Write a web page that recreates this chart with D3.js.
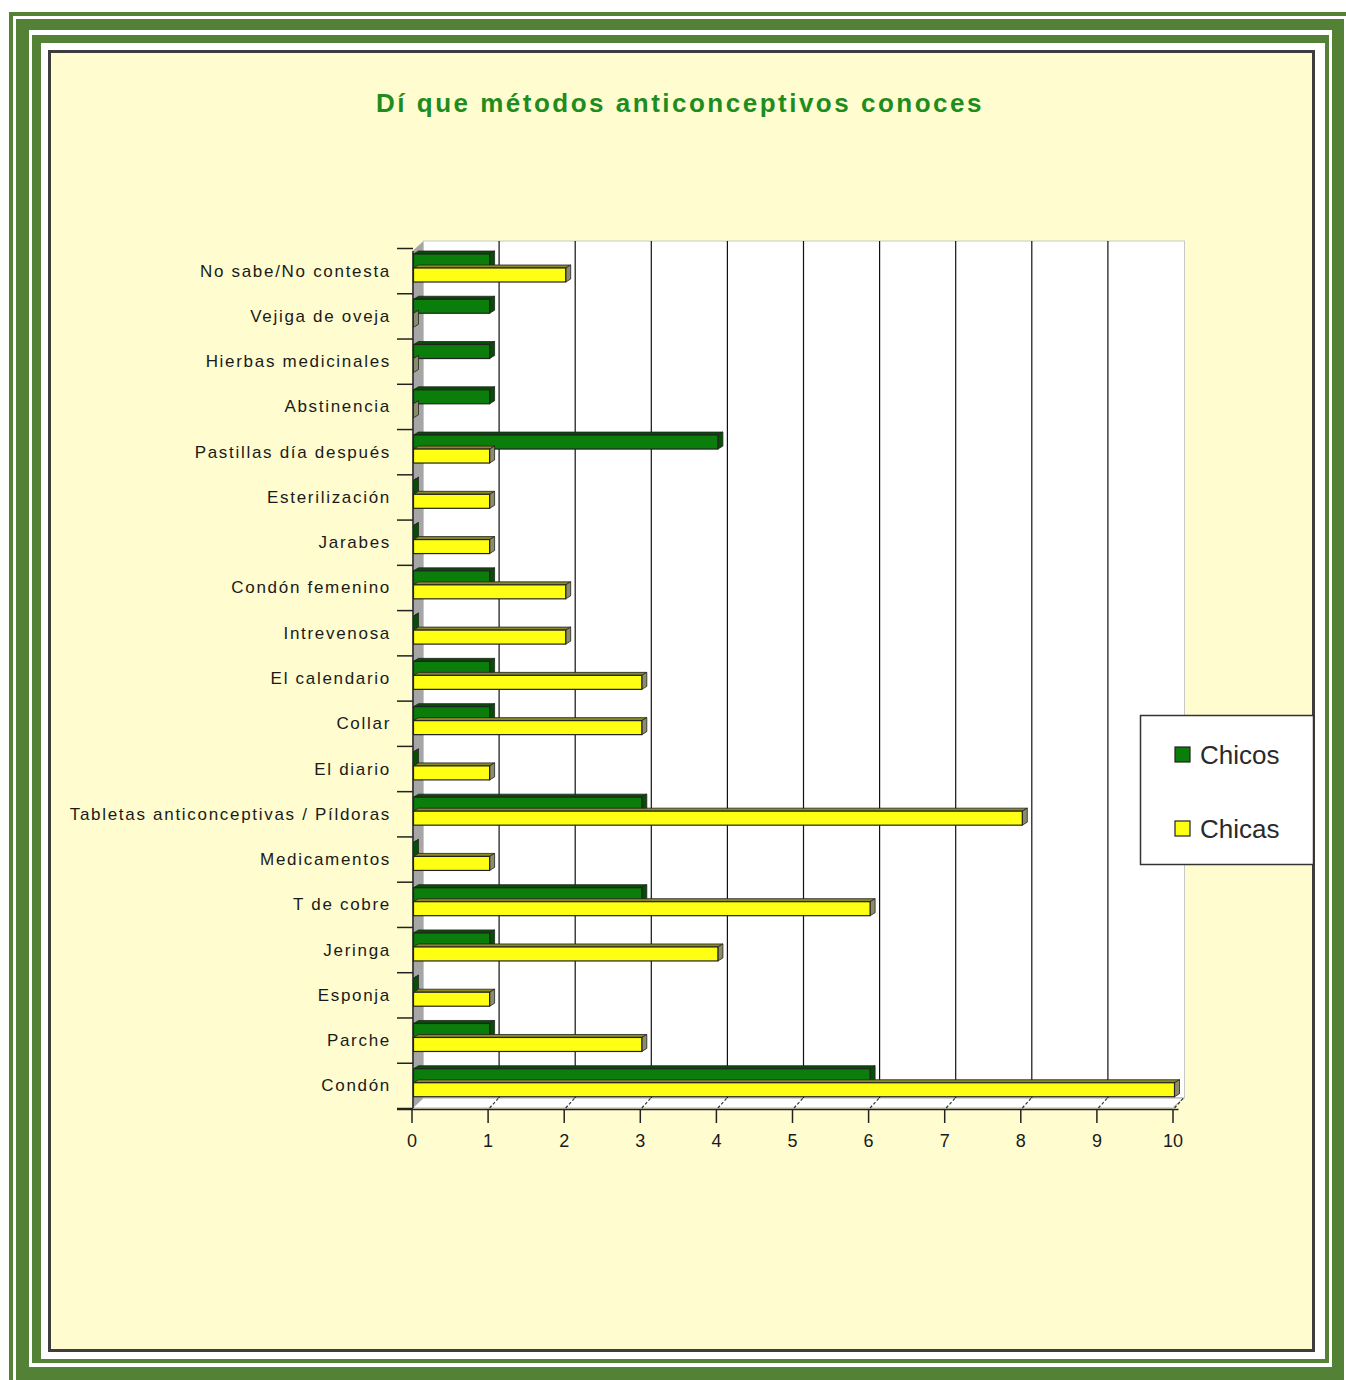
<!DOCTYPE html>
<html>
<head>
<meta charset="utf-8">
<script src="https://cdn.jsdelivr.net/npm/d3@7"></script>
<style>
  body { margin: 0; background: #fff; }
  svg { display: block; }
</style>
</head>
<body>
<div id="chart"></div>
<script>
// categorías de arriba a abajo
const categories = [
  "No sabe/No contesta", "Vejiga de oveja", "Hierbas medicinales", "Abstinencia",
  "Pastillas día después", "Esterilización", "Jarabes", "Condón femenino",
  "Intrevenosa", "El calendario", "Collar", "El diario",
  "Tabletas anticonceptivas / Píldoras", "Medicamentos", "T de cobre",
  "Jeringa", "Esponja", "Parche", "Condón"
];
const chicos = [1, 1, 1, 1, 4, 0, 0, 1, 0, 1, 1, 0, 3, 0, 3, 1, 0, 1, 6];
const chicas = [2, 0, 0, 0, 1, 1, 1, 2, 2, 3, 3, 1, 8, 1, 6, 4, 1, 3, 10];
const xTicks = [0, 1, 2, 3, 4, 5, 6, 7, 8, 9, 10];
const seriesNames = ["Chicos", "Chicas"];

const W = 1346, H = 1380;
const frameGreen = "#538135";
const svg = d3.select("#chart").append("svg").attr("width", W).attr("height", H);

// marco verde (varios bordes)
svg.append("rect").attr("width", W).attr("height", H).attr("fill", "#fff");
function band(o, i) {
  return `M${o[0]},${o[1]}H${o[2]}V${o[3]}H${o[0]}Z M${i[0]},${i[1]}H${i[2]}V${i[3]}H${i[0]}Z`;
}
svg.append("path").attr("fill-rule", "evenodd").attr("fill", frameGreen)
  .attr("d", band([9, 12, 1360, 1395], [13, 16, 1356, 1391]));
svg.append("path").attr("fill-rule", "evenodd").attr("fill", frameGreen)
  .attr("d", band([16, 19, 1344, 1380], [29, 30, 1332, 1367]));
svg.append("path").attr("fill-rule", "evenodd").attr("fill", frameGreen)
  .attr("d", band([32, 35, 1329, 1363], [41, 43, 1325, 1359]));

// panel
svg.append("rect").attr("x", 49.5).attr("y", 51.5).attr("width", 1264).attr("height", 1299)
  .attr("fill", "#fffdcf").attr("stroke", "#3d3d3d").attr("stroke-width", 3);

// título
svg.append("text")
  .attr("x", 680).attr("y", 112)
  .attr("text-anchor", "middle")
  .style("font-family", "Liberation Sans, Arial, sans-serif")
  .style("font-size", "26px").style("font-weight", "bold")
  .style("letter-spacing", "2.5px")
  .attr("fill", "#1e8c1e")
  .text("Dí que métodos anticonceptivos conoces");

// escalas
const x = d3.scaleLinear().domain([0, 10]).range([411.5, 1172.5]);
const y = d3.scaleBand().domain(categories).range([248, 1108]);
const depthX = 11, depthY = 10;
const wallTop = 241, floorY = 1108;

// pared izquierda gris
svg.append("path")
  .attr("d", `M${x(0) + 1},${wallTop + depthY}L${x(0) + 1 + depthX},${wallTop}V${floorY - depthY}L${x(0) + 1},${floorY}Z`)
  .attr("fill", "#a6a6a6");

// pared del fondo
svg.append("rect")
  .attr("x", x(0) + depthX + 1).attr("y", wallTop)
  .attr("width", x(10) - x(0)).attr("height", floorY - depthY - wallTop)
  .attr("fill", "#fff").attr("stroke", "#c8c8c8").attr("stroke-width", 1);

// suelo
svg.append("path")
  .attr("d", `M${x(0) + 1},${floorY}L${x(0) + 1 + depthX},${floorY - depthY}H${x(10) + depthX}L${x(10)},${floorY}Z`)
  .attr("fill", "#fff").attr("stroke", "#b0b0b0").attr("stroke-width", 1);

// líneas de cuadrícula
svg.append("g").selectAll("line").data(xTicks.slice(1, 10)).join("line")
  .attr("x1", d => x(d) + depthX + 0.5).attr("x2", d => x(d) + depthX + 0.5)
  .attr("y1", wallTop).attr("y2", floorY - depthY)
  .attr("stroke", "#111").attr("stroke-width", 1.2);
svg.append("g").selectAll("line").data(xTicks.slice(1)).join("line")
  .attr("x1", d => x(d) + 2).attr("x2", d => x(d) + depthX)
  .attr("y1", floorY).attr("y2", floorY - depthY)
  .attr("stroke", "#333").attr("stroke-width", 1.2).attr("stroke-dasharray", "3,2");

// barras 3D
const bx = 2, dX = 5, dY = 3, barH = 14;
const seriesStyle = [
  { vals: chicos, front: "#0b7d0b", top: "#064d06", side: "#055005", off: 6 },
  { vals: chicas, front: "#ffff14", top: "#8a8a20", side: "#8c8c6a", off: 20 }
];
const barsG = svg.append("g");
seriesStyle.forEach(s => {
  const g = barsG.append("g");
  categories.forEach((c, i) => {
    const v = s.vals[i];
    const x0 = x(0) + bx, x1 = x(v) + bx;
    const y0 = y(c) + s.off, y1 = y0 + barH;
    // cara superior
    g.append("path")
      .attr("d", `M${x0},${y0}L${x0 + dX},${y0 - dY}H${x1 + dX}L${x1},${y0}Z`)
      .attr("fill", s.top).attr("stroke", "#222").attr("stroke-width", 0.8);
    // cara lateral
    g.append("path")
      .attr("d", `M${x1},${y0}L${x1 + dX},${y0 - dY}V${y1 - dY}L${x1},${y1}Z`)
      .attr("fill", s.side).attr("stroke", "#222").attr("stroke-width", 0.8);
    // cara frontal
    if (v > 0) {
      g.append("rect")
        .attr("x", x0).attr("y", y0).attr("width", x1 - x0).attr("height", barH)
        .attr("fill", s.front).attr("stroke", "#222").attr("stroke-width", 1.2);
    }
  });
});

// eje Y
svg.append("line").attr("x1", x(0) + 1.5).attr("x2", x(0) + 1.5)
  .attr("y1", wallTop + depthY).attr("y2", floorY)
  .attr("stroke", "#222").attr("stroke-width", 1.5);
const yBounds = categories.map(c => y(c)).concat([y.range()[1]]);
svg.append("g").selectAll("line").data(yBounds).join("line")
  .attr("x1", 397).attr("x2", x(0) + 1.5)
  .attr("y1", d => d + 0.5).attr("y2", d => d + 0.5)
  .attr("stroke", "#222").attr("stroke-width", 1.5);
svg.append("g").selectAll("text").data(categories).join("text")
  .attr("x", 391).attr("y", d => y(d) + y.bandwidth() / 2 + 6)
  .attr("text-anchor", "end")
  .style("font-family", "Liberation Sans, Arial, sans-serif")
  .style("font-size", "17px").style("letter-spacing", "1.7px")
  .attr("fill", "#1a1a1a")
  .text(d => d);

// eje X
const xAxis = svg.append("g").attr("transform", `translate(0,${floorY + 1})`)
  .call(d3.axisBottom(x).tickValues(xTicks).tickSize(14).tickSizeOuter(0).tickPadding(11));
xAxis.select(".domain").attr("d", `M397,0.5H${x(10) + 6}`).attr("stroke", "#222").attr("stroke-width", 1.5);
xAxis.selectAll(".tick line").attr("stroke", "#222").attr("stroke-width", 1.5);
xAxis.selectAll(".tick text")
  .style("font-family", "Liberation Sans, Arial, sans-serif")
  .style("font-size", "18px").attr("fill", "#1a1a1a");

// leyenda
const lg = svg.append("g");
lg.append("rect").attr("x", 1140.5).attr("y", 715.5).attr("width", 173).attr("height", 149)
  .attr("fill", "#fff").attr("stroke", "#333").attr("stroke-width", 1.5);
const legendColors = ["#0b7d0b", "#ffff14"];
seriesNames.forEach((n, i) => {
  const cy = 755 + i * 74;
  lg.append("rect").attr("x", 1175).attr("y", cy - 8).attr("width", 15).attr("height", 15)
    .attr("fill", legendColors[i]).attr("stroke", "#222").attr("stroke-width", 1.2);
  lg.append("text").attr("x", 1200).attr("y", cy + 9)
    .style("font-family", "Liberation Sans, Arial, sans-serif")
    .style("font-size", "26px").attr("fill", "#2a2a2a")
    .text(n);
});
</script>
</body>
</html>
